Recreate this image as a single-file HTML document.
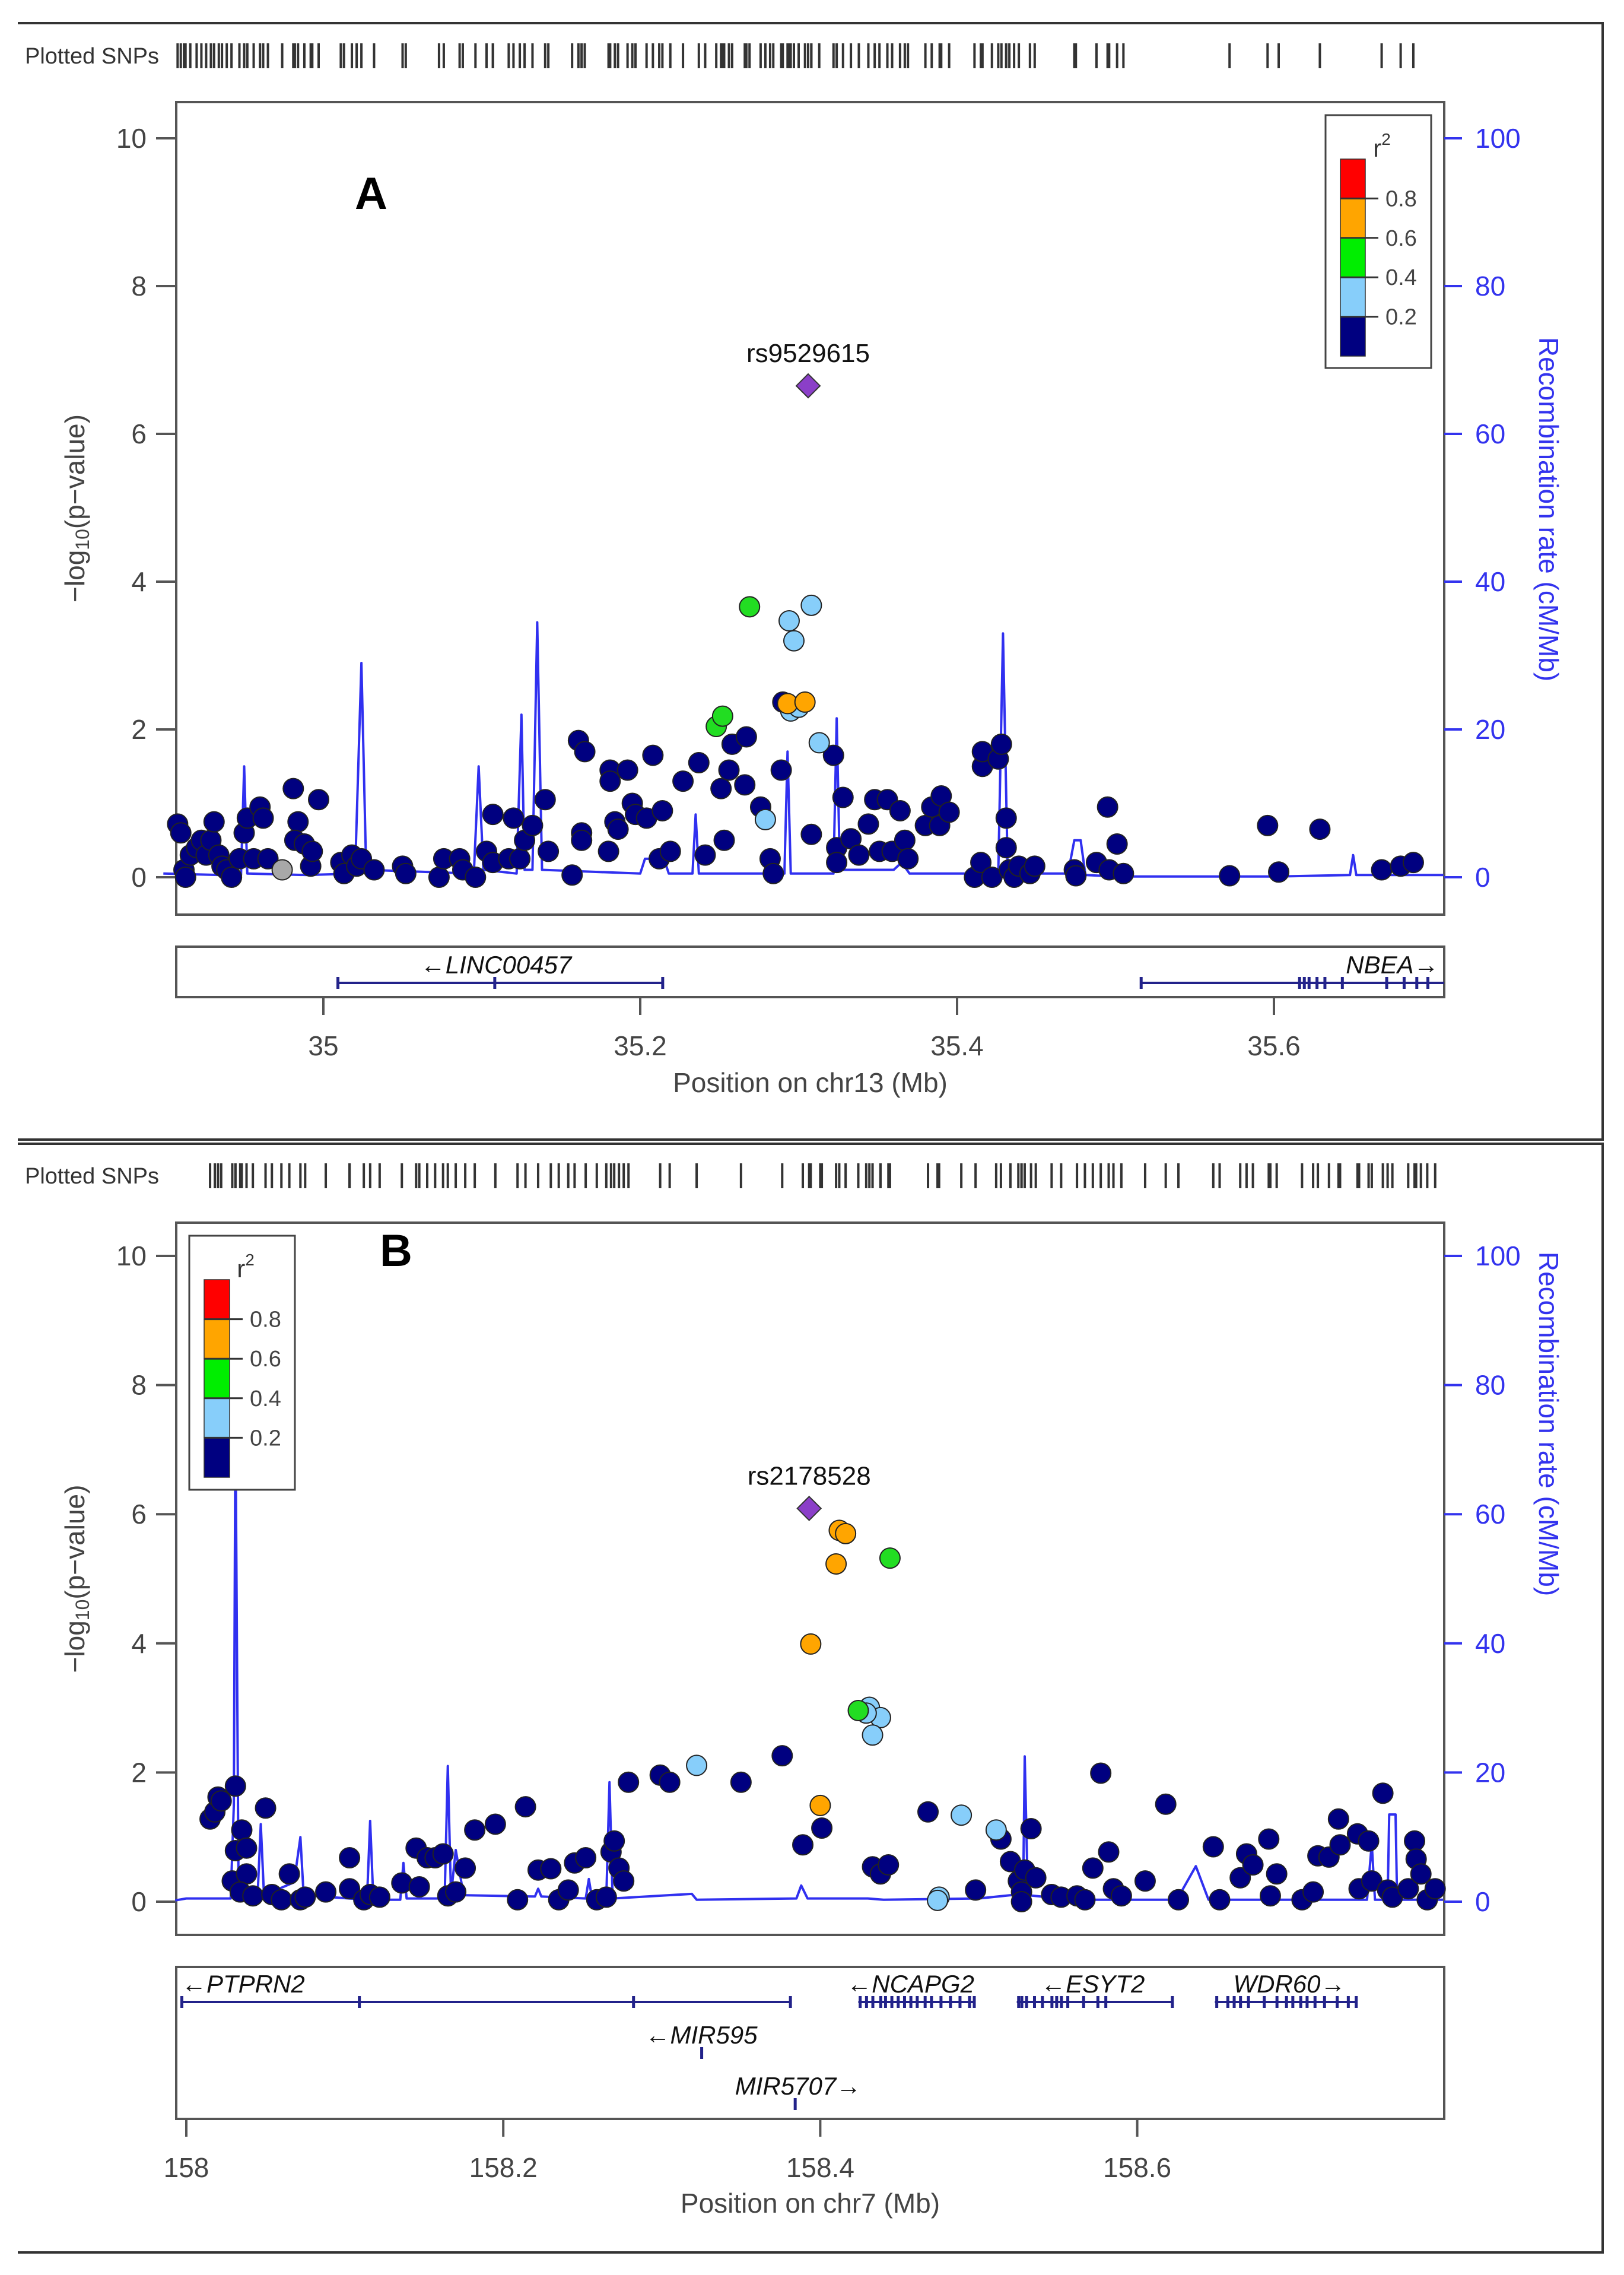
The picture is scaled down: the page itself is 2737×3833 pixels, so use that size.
<!DOCTYPE html>
<html><head><meta charset="utf-8"><style>
html,body{margin:0;padding:0;background:#fff;}
svg{display:block;font-family:"Liberation Sans",sans-serif;}
</style></head><body>
<svg id="fig" width="2737" height="3833" viewBox="0 0 2737 3833" xmlns="http://www.w3.org/2000/svg"></svg>
<script>
// ---------- Panel A data (chr13) ----------
const aNavyPos=[34.908,34.910,34.912,34.913,34.916,34.920,34.923,34.926,34.929,34.931,34.934,34.936,34.939,34.942,34.947,34.950,34.952,34.956,34.960,34.962,34.965,34.981,34.984,34.982,34.988,34.992,34.993,34.997,35.011,35.013,35.018,35.021,35.024,35.032,35.050,35.052,35.073,35.076,35.086,35.088,35.096,35.103,35.107,35.107,35.117,35.120,35.124,35.127,35.132,35.140,35.142,35.157,35.161,35.165,35.163,35.163,35.180,35.181,35.181,35.184,35.186,35.192,35.195,35.197,35.204,35.208,35.212,35.214,35.219,35.227,35.237,35.241,35.251,35.253,35.256,35.258,35.266,35.267,35.276,35.282,35.284,35.289,35.290,35.308,35.322,35.324,35.324,35.328,35.333,35.338,35.344,35.348,35.356,35.351,35.359,35.364,35.367,35.369,35.380,35.384,35.389,35.390,35.395,35.411,35.415,35.416,35.416,35.422,35.426,35.428,35.431,35.431,35.433,35.436,35.439,35.446,35.449,35.474,35.475,35.488,35.495,35.496,35.501,35.505,35.572,35.596,35.603,35.629,35.668,35.680,35.688];
const aNavyP=[0.72,0.60,0.10,0.0,0.3,0.4,0.5,0.3,0.5,0.75,0.3,0.15,0.1,0.0,0.25,0.6,0.8,0.25,0.95,0.8,0.25,1.2,0.75,0.5,0.45,0.15,0.35,1.05,0.2,0.05,0.3,0.15,0.25,0.1,0.15,0.05,0.0,0.25,0.25,0.1,0.0,0.35,0.85,0.2,0.25,0.8,0.25,0.5,0.7,1.05,0.35,0.03,1.85,1.7,0.6,0.5,0.35,1.45,1.3,0.75,0.65,1.45,1.0,0.85,0.8,1.65,0.25,0.9,0.35,1.3,1.55,0.3,1.2,0.5,1.45,1.8,1.25,1.9,0.95,0.25,0.05,1.45,2.37,0.58,1.65,0.4,0.2,1.08,0.52,0.3,0.72,1.05,1.05,0.35,0.35,0.9,0.5,0.25,0.7,0.95,0.7,1.1,0.88,0.0,0.2,1.5,1.7,0.0,1.6,1.8,0.8,0.4,0.1,0.0,0.15,0.05,0.15,0.1,0.02,0.2,0.95,0.1,0.45,0.05,0.02,0.7,0.07,0.65,0.1,0.15,0.2];
const aGrayPos=[34.974], aGrayP=[0.1];
const aLBluePos=[35.279,35.294,35.297,35.308,35.295,35.300,35.313];
const aLBlueP=[0.78,3.47,3.2,3.68,2.25,2.3,1.82];
const aGreenPos=[35.269,35.248,35.252], aGreenP=[3.66,2.04,2.18];
const aOrangePos=[35.293,35.304], aOrangeP=[2.35,2.37];
const aLeadPos=[35.306], aLeadP=[6.65], aLeadName=["rs9529615"];
const aRecPos=[34.899,34.935,34.948,34.950,34.952,34.990,35.020,35.024,35.027,35.095,35.098,35.101,35.122,35.125,35.127,35.132,35.135,35.138,35.200,35.203,35.215,35.218,35.233,35.235,35.237,35.291,35.293,35.295,35.322,35.324,35.326,35.360,35.365,35.370,35.426,35.429,35.432,35.470,35.474,35.478,35.481,35.500,35.600,35.648,35.650,35.652,35.707];
const aRecRate=[0.5,0.3,0.3,15,0.5,0.3,0.5,29,1,0.5,15,1,0.5,22,1,1,34.5,1,0.5,2.5,2.5,0.5,0.5,8.5,0.5,0.5,17,0.5,0.5,21.5,1,1,2,0.5,0.5,33,0.5,0.5,5,5,0.3,0.1,0.1,0.3,3,0.3,0.3];
const aXTicks=[35,35.2,35.4,35.6], aXTickLabels=["35","35.2","35.4","35.6"];
const aGeneNames=["LINC00457","NBEA"], aGeneStart=[35.009,35.516], aGeneEnd=[35.214,35.72], aGeneDir=[-1,1], aGeneRow=[0,0];
const aGeneLabelPos=[35.109,35.704];
const aExons=[[35.009,35.108,35.214],[35.516,35.616,35.619,35.622,35.627,35.632,35.643,35.671,35.682,35.690,35.697]];

// ---------- Panel B data (chr7) ----------
const bNavyPos=[158.015,158.018,158.020,158.022,158.031,158.029,158.031,158.035,158.038,158.038,158.034,158.042,158.050,158.054,158.060,158.065,158.072,158.075,158.088,158.103,158.103,158.112,158.116,158.122,158.136,158.145,158.147,158.152,158.157,158.162,158.165,158.170,158.176,158.182,158.195,158.209,158.214,158.222,158.230,158.235,158.241,158.245,158.252,158.259,158.265,158.268,158.270,158.273,158.276,158.279,158.299,158.305,158.350,158.376,158.389,158.401,158.433,158.438,158.443,158.468,158.498,158.514,158.520,158.525,158.527,158.527,158.529,158.533,158.536,158.546,158.552,158.562,158.567,158.572,158.577,158.582,158.585,158.590,158.605,158.618,158.626,158.648,158.652,158.665,158.669,158.673,158.683,158.684,158.688,158.704,158.711,158.714,158.721,158.727,158.728,158.739,158.740,158.746,158.748,158.755,158.758,158.761,158.771,158.775,158.776,158.779,158.783,158.788];
const bNavyP=[1.28,1.39,1.62,1.56,1.79,0.32,0.79,1.11,0.83,0.43,0.15,0.09,1.45,0.11,0.03,0.43,0.03,0.07,0.15,0.68,0.2,0.03,0.11,0.07,0.29,0.83,0.23,0.68,0.68,0.74,0.09,0.15,0.52,1.11,1.2,0.03,1.47,0.49,0.51,0.03,0.18,0.6,0.68,0.03,0.07,0.77,0.94,0.52,0.32,1.85,1.96,1.85,1.85,2.26,0.88,1.14,0.54,0.43,0.57,1.39,0.18,0.97,0.62,0.32,0.15,0.0,0.49,1.13,0.37,0.11,0.07,0.09,0.03,0.52,1.99,0.77,0.2,0.09,0.32,1.51,0.03,0.85,0.03,0.37,0.74,0.57,0.97,0.09,0.43,0.03,0.15,0.71,0.69,1.28,0.88,1.05,0.2,0.94,0.32,1.68,0.18,0.07,0.2,0.94,0.66,0.43,0.03,0.2];
const bLBluePos=[158.322,158.489,158.511,158.475,158.474,158.431,158.438,158.433,158.429];
const bLBlueP=[2.11,1.34,1.11,0.07,0.02,3.01,2.85,2.58,2.92];
const bGreenPos=[158.424,158.444], bGreenP=[2.96,5.32];
const bOrangePos=[158.394,158.400,158.412,158.416,158.410], bOrangeP=[3.99,1.49,5.75,5.7,5.23];
const bLeadPos=[158.393], bLeadP=[6.09], bLeadName=["rs2178528"];
const bRecPos=[157.993,158.0,158.028,158.030,158.031,158.033,158.045,158.047,158.049,158.068,158.072,158.074,158.114,158.116,158.118,158.135,158.137,158.139,158.163,158.165,158.167,158.170,158.175,158.220,158.222,158.224,158.252,158.254,158.256,158.265,158.267,158.269,158.319,158.322,158.385,158.388,158.392,158.430,158.440,158.500,158.520,158.528,158.529,158.531,158.560,158.625,158.637,158.645,158.745,158.748,158.750,158.758,158.759,158.763,158.764,158.793];
const bRecRate=[0.2,0.5,0.5,15,75,1,1,12,1,3,10,1,0.3,12.5,0.3,0.3,6,0.5,0.5,21,1,8,1,0.8,2,0.8,0.5,3.5,0.5,0.5,18.5,0.5,1.2,0.3,0.5,2.5,0.5,0.5,0.3,0.5,1,1,22.5,1,0.3,0.3,5.5,0.3,0.3,9,0.3,0.3,13.5,13.5,0.3,0.3];
const bXTicks=[158,158.2,158.4,158.6], bXTickLabels=["158","158.2","158.4","158.6"];
const bGeneNames=["PTPRN2","NCAPG2","ESYT2","WDR60","MIR595","MIR5707"];
const bGeneStart=[157.997,158.424,158.524,158.649,158.325,158.384], bGeneEnd=[158.381,158.497,158.622,158.739,158.3255,158.3845];
const bGeneDir=[-1,-1,-1,1,-1,1], bGeneRow=[0,0,0,0,1,2];
const bGeneLabelPos=[157.997,158.457,158.572,158.696,158.325,158.386];
const bExons=[[157.997,158.109,158.282,158.381],[158.425,158.429,158.433,158.438,158.441,158.445,158.449,158.453,158.457,158.461,158.466,158.470,158.476,158.482,158.488,158.494,158.497],[158.525,158.527,158.530,158.535,158.540,158.546,158.549,158.552,158.556,158.566,158.575,158.580,158.622],[158.650,158.657,158.661,158.665,158.670,158.680,158.688,158.694,158.698,158.703,158.707,158.712,158.718,158.726,158.733,158.738],[158.325],[158.384]];

const yTicks=[0,2,4,6,8,10], recTicks=[0,20,40,60,80,100];
const legendLabels=["0.8","0.6","0.4","0.2"];
const legendColors=["#FF0000","#FFA500","#00EE00","#87CEFA","#000080"];

const NS="http://www.w3.org/2000/svg";
const svg=document.getElementById('fig');
function mk(tag,attrs,parent){const e=document.createElementNS(NS,tag);for(const k in attrs)e.setAttribute(k,attrs[k]);(parent||svg).appendChild(e);return e;}
function txt(s,attrs,parent){const e=mk('text',attrs,parent);e.textContent=s;return e;}

function panel(c){
  const g=mk('g',{});
  
  
  const X=p=>c.x0+(p-c.xBase)*c.pxPerMb;
  const Y=v=>c.y0-v*c.pxPerUnit;
  const R=r=>c.y0-r*c.pxPerUnit/10;
  const fr=mk('path',{d:`M30 ${c.frameTop} H${c.frameRight} V${c.frameBottom} H30`,fill:'none',stroke:'#333','stroke-width':4},g);
  
  
  const ps=txt('Plotted SNPs',{x:42,y:c.snpY+14,'font-size':38,fill:'#333'},g);
  
  
  const allPos=[].concat(c.navyPos,c.grayPos||[],c.lbPos,c.grPos,c.orPos,c.leadPos);
  const tg=mk('g',{stroke:'#333','stroke-width':4},g);
  
  
  allPos.forEach(p=>{const l=mk('line',{x1:X(p),x2:X(p),y1:c.snpY-20,y2:c.snpY+22},tg);
    
    });
  const pb=mk('path',{d:`M${c.left} ${c.top} H${c.right} V${c.bottom} H${c.left} Z`,fill:'none',stroke:'#555','stroke-width':4},g);
  
  
  yTicks.forEach(t=>{const l=mk('line',{x1:c.left-34,x2:c.left,y1:Y(t),y2:Y(t),stroke:'#555','stroke-width':4},g);
    
    
    const tt=txt(String(t),{x:c.left-50,y:Y(t)+16,'font-size':46,'text-anchor':'end',fill:'#444'},g);
    
    });
  const yl=mk('text',{transform:`translate(${c.left-155},${(c.top+c.bottom)/2}) rotate(-90)`,'font-size':46,'text-anchor':'middle',fill:'#444'},g);
  yl.innerHTML='\u2212log<tspan font-size="32" dy="8">10</tspan><tspan dy="-8">(p\u2212value)</tspan>';
  
  
  recTicks.forEach(t=>{const l=mk('line',{x1:c.right,x2:c.right+30,y1:R(t),y2:R(t),stroke:'#3333EE','stroke-width':4},g);
    
    
    const tt=txt(String(t),{x:c.right+52,y:R(t)+16,'font-size':46,fill:'#3333EE'},g);
    
    });
  const rl=txt('Recombination rate (cM/Mb)',{transform:`translate(${c.right+160},${c.recTitleY}) rotate(90)`,'font-size':46,'text-anchor':'middle',fill:'#3333EE'},g);
  
  
  let d='';c.recPos.forEach((p,i)=>{d+=(i?'L':'M')+X(p).toFixed(1)+' '+R(c.recRate[i]).toFixed(1);});
  const rp=mk('path',{d:d,fill:'none',stroke:'#3030F0','stroke-width':4,'stroke-linejoin':'round'},g);
  
  
  function pts(pos,vals,color,nm){pos.forEach((p,i)=>{const ci=mk('circle',{cx:X(p),cy:Y(vals[i]),r:17,fill:color,stroke:'#222','stroke-width':2},g);
    
    });}
  pts(c.navyPos,c.navyP,'#000080','snp-point-r2-0-0.2');
  if(c.grayPos)pts(c.grayPos,c.grayP,'#A8A8A8','snp-point-no-ld');
  pts(c.lbPos,c.lbP,'#87CEFA','snp-point-r2-0.2-0.4');
  pts(c.grPos,c.grP,'#22DD22','snp-point-r2-0.4-0.6');
  pts(c.orPos,c.orP,'#FFA500','snp-point-r2-0.6-0.8');
  c.leadPos.forEach((p,i)=>{const x=X(p),y=Y(c.leadP[i]);
    const dm=mk('path',{d:`M${x} ${y-20} L${x+20} ${y} L${x} ${y+20} L${x-20} ${y} Z`,fill:'#8B3FC8',stroke:'#333','stroke-width':2},g);
    
    
    const lt=txt(c.leadName[i],{x:x,y:y-40,'font-size':44,'text-anchor':'middle',fill:'#111'},g);
    
    });
  const pl=txt(c.letter,{x:c.letterX,y:c.letterY,'font-size':76,'font-weight':'bold',fill:'#000'},g);
  
  
  const lg=mk('g',{},g);
  
  
  mk('rect',{x:c.lgX,y:c.lgY,width:c.lgW,height:c.lgH,fill:'#fff',stroke:'#444','stroke-width':3},lg);
  const r2=mk('text',{x:c.lgX+c.lgW/2+6,y:c.lgY+70,'font-size':42,'text-anchor':'middle',fill:'#333'},lg);
  r2.innerHTML='r<tspan font-size="28" dy="-20">2</tspan>';
  const segH=c.barH/5;
  legendColors.forEach((col,i)=>{const r=mk('rect',{x:c.barX,y:c.barY+i*segH,width:c.barW,height:segH,fill:col,stroke:'#333','stroke-width':1.5},lg);
    
    });
  legendLabels.forEach((s,i)=>{const yy=c.barY+(i+1)*segH;
    mk('line',{x1:c.barX,x2:c.barX+c.barW+22,y1:yy,y2:yy,stroke:'#333','stroke-width':3},lg);
    const lt=txt(s,{x:c.barX+c.barW+34,y:yy+13,'font-size':38,fill:'#444'},lg);
    
    });
  const gb=mk('path',{d:`M${c.left} ${c.gTop} H${c.right} V${c.gBottom} H${c.left} Z`,fill:'#fff',stroke:'#555','stroke-width':4},g);
  
  
  c.geneNames.forEach((nm,i)=>{
    const gy=c.gLine0+c.geneRow[i]*c.rowH;
    const gx1=X(c.geneStart[i]),gx2=Math.min(X(c.geneEnd[i]),c.right);
    const gg=mk('g',{},g);
    
    
    mk('line',{x1:gx1,x2:gx2,y1:gy,y2:gy,stroke:'#22228A','stroke-width':4},gg);
    c.exons[i].forEach(e=>{mk('rect',{x:X(e)-2,y:gy-10,width:5,height:20,fill:'#22228A'},gg);});
    const label=c.geneDir[i]<0?'\u2190'+nm:nm+'\u2192';
    let anchor='middle';let lx=X(c.geneLabelPos[i]);
    if(c.anchors&&c.anchors[i])anchor=c.anchors[i];
    const gt=txt(label,{x:lx,y:gy-16,'font-size':42,'font-style':'italic','text-anchor':anchor,fill:'#111'},gg);
    
    
  });
  mk('line',{x1:c.left,x2:c.right,y1:c.gBottom,y2:c.gBottom,stroke:'#555','stroke-width':4},g);
  c.xTicks.forEach((t,i)=>{const l=mk('line',{x1:X(t),x2:X(t),y1:c.gBottom,y2:c.gBottom+30,stroke:'#555','stroke-width':4},g);
    
    
    const tt=txt(c.xTickLabels[i],{x:X(t),y:c.gBottom+98,'font-size':46,'text-anchor':'middle',fill:'#444'},g);
    
    });
  const xt=txt(c.xTitle,{x:(c.left+c.right)/2,y:c.xTitleY,'font-size':46,'text-anchor':'middle',fill:'#444'},g);
  
  
}

panel({name:'panel-a',letter:'A',letterX:598,letterY:352,
  frameTop:39,frameRight:2701,frameBottom:1920,snpY:93,
  left:297,right:2434,top:172,bottom:1541,y0:1478,pxPerUnit:124.5,x0:545,xBase:35,pxPerMb:2670,recTitleY:858,
  recPos:aRecPos,recRate:aRecRate,
  navyPos:aNavyPos,navyP:aNavyP,grayPos:aGrayPos,grayP:aGrayP,lbPos:aLBluePos,lbP:aLBlueP,grPos:aGreenPos,grP:aGreenP,orPos:aOrangePos,orP:aOrangeP,leadPos:aLeadPos,leadP:aLeadP,leadName:aLeadName,
  lgX:2234,lgY:194,lgW:178,lgH:426,barX:2259,barY:268,barW:42,barH:332,
  gTop:1595,gBottom:1680,gLine0:1656,rowH:57,geneNames:aGeneNames,geneStart:aGeneStart,geneEnd:aGeneEnd,geneDir:aGeneDir,geneRow:aGeneRow,geneLabelPos:aGeneLabelPos,exons:aExons,anchors:['middle','end'],
  xTicks:aXTicks,xTickLabels:aXTickLabels,xTitle:'Position on chr13 (Mb)',xTitleY:1840});

panel({name:'panel-b',letter:'B',letterX:640,letterY:2133,
  frameTop:1927,frameRight:2701,frameBottom:3795,snpY:1980,
  left:297,right:2434,top:2060,bottom:3260,y0:3204,pxPerUnit:108.8,x0:314,xBase:158,pxPerMb:2671,recTitleY:2399,
  recPos:bRecPos,recRate:bRecRate,
  navyPos:bNavyPos,navyP:bNavyP,lbPos:bLBluePos,lbP:bLBlueP,grPos:bGreenPos,grP:bGreenP,orPos:bOrangePos,orP:bOrangeP,leadPos:bLeadPos,leadP:bLeadP,leadName:bLeadName,
  lgX:319,lgY:2082,lgW:178,lgH:428,barX:344,barY:2156,barW:43,barH:333,
  gTop:3314,gBottom:3570,gLine0:3373,rowH:86,geneNames:bGeneNames,geneStart:bGeneStart,geneEnd:bGeneEnd,geneDir:bGeneDir,geneRow:bGeneRow,geneLabelPos:bGeneLabelPos,exons:bExons,anchors:['start','middle','middle','middle','middle','middle'],
  xTicks:bXTicks,xTickLabels:bXTickLabels,xTitle:'Position on chr7 (Mb)',xTitleY:3728});
</script>
</body></html>
